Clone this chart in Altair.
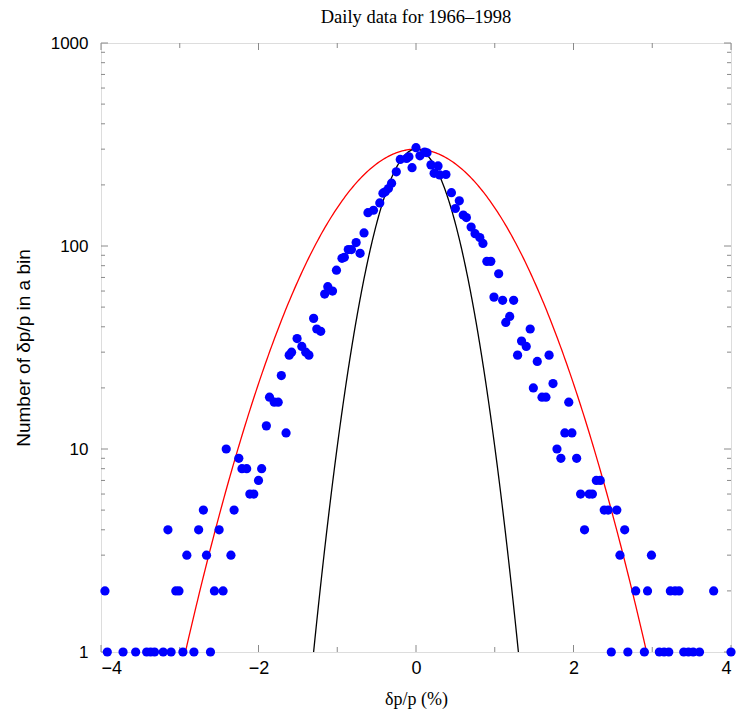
import altair as alt
import numpy as np
import pandas as pd

# ---- data ----
dot_x = [
    -3.95,
    -3.92, -3.72, -3.56, -3.42, -3.37, -3.32, -3.21, -3.11, -2.96, -2.82, -2.61,
    -3.05, -3.01, -2.56, -2.45,
    -2.91, -2.66, -2.35,
    -3.15, -2.76, -2.50,
    -2.70, -2.31,
    -2.11, -2.06,
    -2.00,
    -2.21, -2.15, -1.96,
    -2.25,
    -2.41,
    -1.65,
    -1.90,
    -1.86, -1.80, -1.75,
    -1.71,
    -1.58, -1.61,
    -1.51, -1.45, -1.40, -1.36,
    -1.30, -1.26, -1.21,
    -1.12, -1.06, -1.16,
    -1.01,
    -0.94, -0.91,
    -0.86, -0.82,
    -0.71,
    -0.76,
    -0.66,
    -0.61, -0.54, -0.46,
    -0.42, -0.39, -0.35, -0.31,
    -0.25,
    -0.20, -0.12, -0.09,
    -0.05,
    0.00,
    0.05, 0.11, 0.14,
    0.19, 0.28, 0.23, 0.30, 0.38,
    0.45, 0.55, 0.50,
    0.60, 0.64,
    0.70, 0.75, 0.81, 0.85,
    0.90, 0.95,
    1.05,
    0.99, 1.10, 1.24,
    1.14, 1.19,
    1.45,
    1.34, 1.40,
    1.29, 1.69,
    1.54,
    1.74,
    1.49, 1.60, 1.65,
    1.94,
    1.89, 1.98,
    1.79,
    1.84, 2.04,
    2.29, 2.34,
    2.09, 2.20, 2.24,
    2.39, 2.44, 2.55,
    2.14, 2.65,
    2.59, 2.99,
    2.79, 2.94, 3.23, 3.29, 3.34, 3.78,
    2.48, 2.69, 2.90, 3.09, 3.15, 3.21, 3.40, 3.46, 3.52, 3.60, 4.00,
]
dot_n = [
    2,
    1, 1, 1, 1, 1, 1, 1, 1, 1, 1, 1,
    2, 2, 2, 2,
    3, 3, 3,
    4, 4, 4,
    5, 5,
    6, 6,
    7,
    8, 8, 8,
    9,
    10,
    12,
    13,
    18, 17, 17,
    23,
    30, 29,
    35, 32, 30, 29,
    44, 39, 38,
    63, 60, 58,
    76,
    87, 88,
    96, 96,
    92,
    104,
    116,
    146, 150, 163,
    182, 185, 192, 204,
    232,
    267, 270, 275,
    243,
    305,
    278, 290, 288,
    251, 248, 228, 224, 225,
    183, 167, 153,
    142, 138,
    124, 115, 110, 103,
    84, 84,
    73,
    56, 54, 54,
    42, 45,
    39,
    34, 32,
    29, 29,
    27,
    21,
    20, 18, 18,
    17,
    12, 12,
    10,
    9, 9,
    7, 7,
    6, 6, 6,
    5, 5, 5,
    4, 4,
    3, 3,
    2, 2, 2, 2, 2, 2,
    1, 1, 1, 1, 1, 1, 1, 1, 1, 1, 1,
]

# Gaussian reference curves (peak height and width)
red_peak, red_sigma = 300.0, 0.867
black_peak, black_sigma = 300.0, 0.385

x_major = [-4, -2, 0, 2, 4]
x_minor = [-3, -1, 1, 3]
y_major = [1, 10, 100, 1000]
y_minor = [m * 10 ** k for k in range(3) for m in range(2, 10)]

W, H = 630, 609

SERIF = "'Liberation Serif', 'Times New Roman', serif"
SANS = "'Liberation Sans', Arial, sans-serif"


def gauss_curve(peak, sigma, name):
    xmax = sigma * np.sqrt(2 * np.log(peak))
    xs = np.linspace(-xmax, xmax, 301)
    ys = peak * np.exp(-xs ** 2 / (2 * sigma ** 2))
    ys = np.maximum(ys, 1.0)
    return pd.DataFrame({"x": xs, "n": ys, "curve": name})


dots = pd.DataFrame({"x": dot_x, "n": dot_n})
red = gauss_curve(red_peak, red_sigma, "wide")
black = gauss_curve(black_peak, black_sigma, "narrow")

xscale = alt.Scale(domain=[-4, 4], nice=False, zero=False)
yscale = alt.Scale(type="log", domain=[1, 1000], nice=False)

axis_col = "#8a8a8a"

x_axis = alt.Axis(
    values=x_major, format="d", ticks=False, domain=False, grid=False,
    labelFont=SANS, labelFontSize=18, labelColor="black",
    labelPadding=7, title="δp/p (%)", titleFont=SERIF,
    titleFontSize=18, titleFontWeight="normal", titleColor="black", titlePadding=13,
)
y_axis = alt.Axis(
    values=y_major, format="d", ticks=False, domain=False, grid=False,
    labelFont=SANS, labelFontSize=17, labelColor="black",
    labelPadding=13, title="Number of δp/p in a bin", titleFont=SANS,
    titleFontSize=19, titleFontWeight="normal", titleColor="black", titlePadding=17,
)

X = lambda: alt.X("x:Q", scale=xscale, axis=x_axis)
Y = lambda: alt.Y("n:Q", scale=yscale, axis=y_axis)

points = alt.Chart(dots).mark_circle(size=85, color="#0000ff", opacity=1).encode(x=X(), y=Y())
red_line = alt.Chart(red).mark_line(color="#ff0000", strokeWidth=1.3).encode(x=X(), y=Y())
black_line = alt.Chart(black).mark_line(color="black", strokeWidth=1.3).encode(x=X(), y=Y())

xt = pd.DataFrame({"x": x_major + x_minor, "len": [7] * len(x_major) + [5] * len(x_minor)})
yt = pd.DataFrame({"n": y_major + y_minor, "len": [7] * len(y_major) + [4] * len(y_minor)})


def xticks(y0, sign):
    layers = []
    for L in (7, 5):
        d = xt[xt["len"] == L]
        layers.append(
            alt.Chart(d).mark_rule(color=axis_col, strokeWidth=1).encode(
                x=X(), y=alt.value(y0), y2=alt.value(y0 + sign * L),
            )
        )
    return layers


def yticks(x0, sign):
    layers = []
    for L in (7, 4):
        d = yt[yt["len"] == L]
        layers.append(
            alt.Chart(d).mark_rule(color=axis_col, strokeWidth=1).encode(
                y=Y(), x=alt.value(x0), x2=alt.value(x0 + sign * L),
            )
        )
    return layers


tick_layers = xticks(H, -1) + xticks(0, 1) + yticks(0, 1) + yticks(W, -1)

chart = alt.layer(*tick_layers, red_line, black_line, points).properties(
    width=W, height=H,
    title=alt.TitleParams(
        "Daily data for 1966–1998", font=SERIF, fontSize=18.5,
        fontWeight="normal", color="black", offset=8,
    ),
    autosize=alt.AutoSizeParams(type="none"),
    padding={"left": 93, "top": 35, "right": 11, "bottom": 62},
).configure_view(stroke=axis_col, strokeWidth=1).configure_axisX(
    titleFont=SERIF
).configure(background="white")

chart.save("out.html", embed_options={"renderer": "svg", "actions": False})
